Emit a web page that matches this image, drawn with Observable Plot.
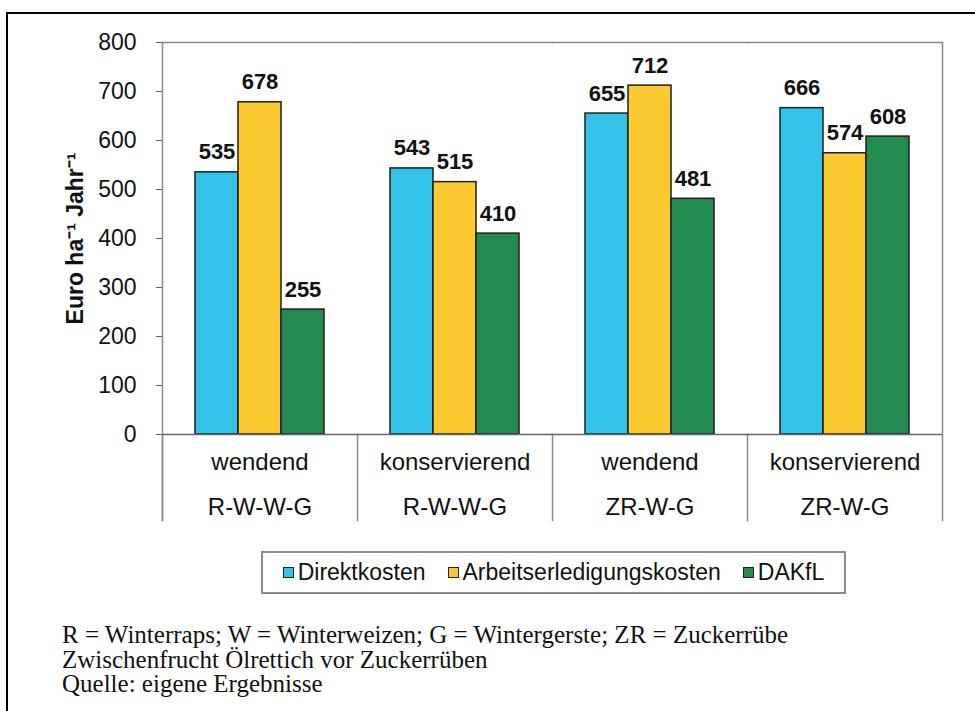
<!DOCTYPE html>
<html>
<head>
<meta charset="utf-8">
<script src="https://cdn.jsdelivr.net/npm/d3@7"></script>
<script src="https://cdn.jsdelivr.net/npm/@observablehq/plot@0.6"></script>
<style>
  html, body { margin: 0; padding: 0; background: #fff; }
  #page { position: relative; width: 975px; height: 711px; overflow: hidden; background: #fff; }
  #outer { position: absolute; left: 6px; top: 12px; width: 1000px; height: 720px;
           border-top: 2px solid #000; border-left: 2px solid #000; }
  #chart { position: absolute; left: 0; top: 0; }
  #legend { position: absolute; left: 261px; top: 551px; width: 581px; height: 39px;
            border: 2px solid #8c8c8c; display: flex; align-items: center; justify-content: center;
            font-family: "Liberation Sans", Arial, sans-serif; font-size: 23px; color: #111; gap: 22px; }
  #legend .item { display: flex; align-items: center; }
  #legend .sw { width: 9px; height: 9px; border: 1.5px solid #222; margin-right: 4px; }
  #caption { position: absolute; left: 62px; top: 623px; font-family: "Liberation Serif", "Times New Roman", serif;
             font-size: 25px; line-height: 24.5px; color: #111; }
</style>
</head>
<body>
<div id="page">
  <div id="outer"></div>
  <div id="chart"></div>
  <div id="legend"></div>
  <div id="caption"></div>
</div>
<script>
// ---- data ----
const tillage = ["wendend", "konservierend", "wendend", "konservierend"];
const rotation = ["R-W-W-G", "R-W-W-G", "ZR-W-G", "ZR-W-G"];
const series = ["Direktkosten", "Arbeitserledigungskosten", "DAKfL"];
const direktkosten = [535, 543, 655, 666];
const arbeitserledigungskosten = [678, 515, 712, 574];
const dakfl = [255, 410, 481, 608];
const colors = ["#33C3E8", "#FDCB31", "#238B4F"];
const yTicks = [0, 100, 200, 300, 400, 500, 600, 700, 800];
const yLabel = "Euro ha\u207B\u00B9 Jahr\u207B\u00B9";
const captionLines = [
  "R = Winterraps; W = Winterweizen; G = Wintergerste; ZR = Zuckerrübe",
  "Zwischenfrucht Ölrettich vor Zuckerrüben",
  "Quelle: eigene Ergebnisse"
];

// ---- table ----
const groups = tillage.map((t, i) => String(i));
const valuesBySeries = [direktkosten, arbeitserledigungskosten, dakfl];
const table = [];
groups.forEach((g, i) => {
  series.forEach((s, j) => table.push({group: g, series: s, value: valuesBySeries[j][i]}));
});

const axisGray = "#8a8a8a";
const plotHeight = 540, marginTop = 42, marginBottom = 106;
const innerH = plotHeight - marginTop - marginBottom;

const chart = Plot.plot({
  width: 975,
  height: plotHeight,
  marginLeft: 161,
  marginRight: 32,
  marginTop,
  marginBottom,
  style: {fontFamily: "Liberation Sans, Arial, sans-serif", fontSize: "23px", color: "#111", background: "transparent", overflow: "visible"},
  fx: {domain: groups, padding: 0, label: null},
  x: {domain: series, paddingInner: 0, paddingOuter: 0.75, axis: null},
  y: {domain: [0, 800], label: null},
  color: {domain: series, range: colors},
  marks: [
    // top border
    Plot.frame({anchor: "top", stroke: axisGray, strokeWidth: 1.5}),
    // y axis line (first facet) extending down as separator
    Plot.frame({anchor: "left", fx: [groups[0]], stroke: axisGray, strokeWidth: 1.5, insetBottom: -86}),
    // separators below the axis
    Plot.frame({anchor: "left", stroke: axisGray, strokeWidth: 1.5, insetTop: innerH, insetBottom: -86}),
    // right border
    Plot.frame({anchor: "right", fx: [groups[groups.length - 1]], stroke: axisGray, strokeWidth: 1.5, insetBottom: -86}),
    Plot.axisY({ticks: yTicks, tickSize: 6, tickPadding: 20, fontSize: 23, stroke: "#666", label: null}),
    Plot.barY(table, {fx: "group", x: "series", y: "value", fill: "series", stroke: "#1e1e1e", strokeWidth: 1.5}),
    Plot.ruleY([0], {stroke: "#666", strokeWidth: 1.5}),
    Plot.text(table, {fx: "group", x: "series", y: "value", text: d => String(d.value), dy: -20,
                      fontWeight: "bold", fontSize: 22, fill: "#111"}),
    Plot.axisFx({anchor: "bottom", tickSize: 0, tickPadding: 18, fontSize: 24, label: null,
                 tickFormat: g => tillage[+g]}),
    Plot.axisFx({anchor: "bottom", tickSize: 0, tickPadding: 63, fontSize: 24, label: null,
                 tickFormat: g => rotation[+g]}),
    Plot.text([yLabel], {fx: [groups[0]], frameAnchor: "left", textAnchor: "middle", rotate: -90, dx: -87,
                         fontWeight: "bold", fontSize: 23, fill: "#111"})
  ]
});
document.getElementById("chart").appendChild(chart);

// legend
const legend = document.getElementById("legend");
series.forEach((s, j) => {
  const item = document.createElement("div");
  item.className = "item";
  const sw = document.createElement("span");
  sw.className = "sw";
  sw.style.background = colors[j];
  const lab = document.createElement("span");
  lab.textContent = s;
  item.appendChild(sw);
  item.appendChild(lab);
  legend.appendChild(item);
});

// caption
const cap = document.getElementById("caption");
captionLines.forEach(l => {
  const d = document.createElement("div");
  d.textContent = l;
  cap.appendChild(d);
});
</script>
</body>
</html>
